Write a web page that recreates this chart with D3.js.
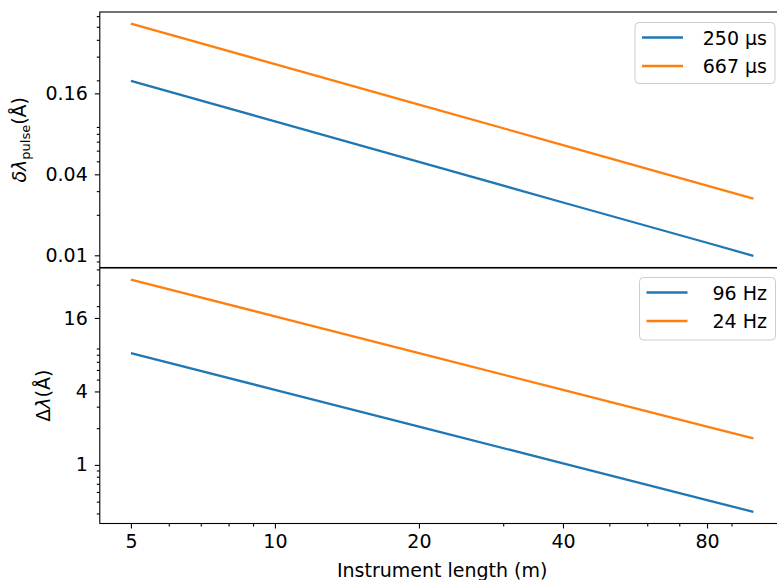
<!DOCTYPE html>
<html>
<head>
<meta charset="utf-8">
<script src="https://cdn.jsdelivr.net/npm/d3@7"></script>
<style>
  body { margin: 0; background: #fff; }
  svg { font-family: "DejaVu Sans", sans-serif; }
</style>
</head>
<body>
<div id="chart-area"></div>
<script>
// Instrument length (m)
var lengths = [5, 10, 20, 40, 80, 100];
// pulse resolution (Angstrom) per pulse length
var pulseLabels = ['250 μs', '667 μs'];
var pulse250 = [0.198, 0.099, 0.0495, 0.0247, 0.0124, 0.0099];
var pulse667 = [0.528, 0.264, 0.132, 0.066, 0.033, 0.0264];
// bandwidth (Angstrom) per frequency
var freqLabels = ['96 Hz', '24 Hz'];
var band96 = [8.24, 4.12, 2.06, 1.03, 0.515, 0.412];
var band24 = [33.0, 16.5, 8.24, 4.12, 2.06, 1.65];
// tick values
var xTicks = [5, 10, 20, 40, 80];
var yTopTicks = [0.01, 0.04, 0.16];
var yBotTicks = [1, 4, 16];

var outerWidth = 777, outerHeight = 580;
var colors = ['#1f77b4', '#ff7f0e'];
var left = 99.8, right = 784.5;
var topPanel = {y0: 12, y1: 267.5};
var botPanel = {y0: 268, y1: 523.5};

var svg = d3.select('#chart-area').append('svg')
            .attr('width', outerWidth)
            .attr('height', outerHeight);

// matplotlib-like 5% padding on log axes
function padLog(lo, hi) {
  var span = Math.log10(hi) - Math.log10(lo);
  var p = Math.pow(10, span * 0.05);
  return [lo / p, hi * p];
}
function minorTicks(domain) {
  var out = [];
  for (var e = -4; e <= 3; e++) {
    for (var m = 2; m <= 9; m++) {
      var v = m * Math.pow(10, e);
      if (v >= domain[0] && v <= domain[1]) out.push(v);
    }
  }
  return out;
}

var xScale = d3.scaleLog()
               .domain(padLog(d3.min(lengths), d3.max(lengths)))
               .range([left, right]);

function drawPanel(panel, series, labels, ticks, legendBox) {
  var all = d3.merge(series);
  var yScale = d3.scaleLog()
                 .domain(padLog(d3.min(all), d3.max(all)))
                 .range([panel.y1, panel.y0]);

  var line = d3.line()
               .x(function(d, i) { return xScale(lengths[i]); })
               .y(function(d) { return yScale(d); });

  series.forEach(function(s, k) {
    svg.append('path')
       .attr('d', line(s))
       .attr('fill', 'none')
       .attr('stroke', colors[k])
       .attr('stroke-width', 2.3);
  });

  var yMinor = minorTicks(yScale.domain()).filter(function(v) {
    return ticks.every(function(t) { return Math.abs(t - v) / t > 1e-6; });
  });

  var yAxisMinor = svg.append('g')
     .attr('transform', 'translate(' + left + ',0)')
     .call(d3.axisLeft(yScale).tickValues(yMinor).tickSize(3).tickFormat(''));
  var yAxisG = svg.append('g')
     .attr('transform', 'translate(' + left + ',0)')
     .call(d3.axisLeft(yScale).tickValues(ticks).tickSize(5).tickPadding(7)
             .tickFormat(function(d) { return String(+d.toPrecision(3)); }));
  [yAxisMinor, yAxisG].forEach(function(g) {
    g.select('.domain').remove();
    g.selectAll('line').attr('stroke', '#000').attr('stroke-width', 1.1);
    g.selectAll('text').attr('font-size', '19px').attr('fill', '#000')
     .attr('font-family', 'DejaVu Sans');
  });

  // frame
  svg.append('rect')
     .attr('x', left).attr('y', panel.y0)
     .attr('width', right - left).attr('height', panel.y1 - panel.y0)
     .attr('fill', 'none').attr('stroke', '#000').attr('stroke-width', 1.1);

  // legend
  var lg = svg.append('g');
  lg.append('rect')
    .attr('x', legendBox.x).attr('y', legendBox.y)
    .attr('width', legendBox.w).attr('height', legendBox.h)
    .attr('rx', 4)
    .attr('fill', '#fff').attr('fill-opacity', 0.8)
    .attr('stroke', '#cccccc').attr('stroke-width', 1);
  labels.forEach(function(lab, k) {
    var yy = legendBox.y + 15 + k * 28.5;
    lg.append('line')
      .attr('x1', legendBox.x + 7).attr('x2', legendBox.x + 48)
      .attr('y1', yy).attr('y2', yy)
      .attr('stroke', colors[k]).attr('stroke-width', 2.3);
    lg.append('text')
      .attr('x', 767).attr('y', yy + 7)
      .attr('text-anchor', 'end')
      .attr('font-size', '19px')
      .text(lab);
  });
  return yScale;
}

drawPanel(topPanel, [pulse250, pulse667], pulseLabels, yTopTicks,
          {x: 635, y: 22.5, w: 140, h: 61});
drawPanel(botPanel, [band96, band24], freqLabels, yBotTicks,
          {x: 639.5, y: 277.5, w: 136, h: 62.5});

// x axis on bottom panel
var xMinor = minorTicks(xScale.domain()).filter(function(v) {
  return xTicks.every(function(t) { return Math.abs(t - v) > 1e-6; });
});
var xAxisMinor = svg.append('g')
   .attr('transform', 'translate(0,' + botPanel.y1 + ')')
   .call(d3.axisBottom(xScale).tickValues(xMinor).tickSize(3).tickFormat(''));
var xAxisG = svg.append('g')
   .attr('transform', 'translate(0,' + botPanel.y1 + ')')
   .call(d3.axisBottom(xScale).tickValues(xTicks).tickSize(5).tickPadding(6)
           .tickFormat(d3.format('d')));
[xAxisMinor, xAxisG].forEach(function(g) {
  g.select('.domain').remove();
  g.selectAll('line').attr('stroke', '#000').attr('stroke-width', 1.1);
  g.selectAll('text').attr('font-size', '19px').attr('fill', '#000')
   .attr('font-family', 'DejaVu Sans');
});

// axis labels
svg.append('text')
   .attr('x', (left + right) / 2).attr('y', 577)
   .attr('text-anchor', 'middle')
   .attr('font-size', '19px')
   .text('Instrument length (m)');

var yl1 = svg.append('text')
   .attr('transform', 'translate(26,' + (topPanel.y0 + topPanel.y1) / 2 + ') rotate(-90)')
   .attr('text-anchor', 'middle')
   .attr('font-size', '19px');
yl1.append('tspan').attr('font-style', 'italic').text('δλ');
yl1.append('tspan').attr('font-size', '13px').attr('dy', 4).text('pulse');
yl1.append('tspan').attr('dy', -4).text('(Å)');

var yl2 = svg.append('text')
   .attr('transform', 'translate(50,' + (botPanel.y0 + botPanel.y1) / 2 + ') rotate(-90)')
   .attr('text-anchor', 'middle')
   .attr('font-size', '19px');
yl2.append('tspan').text('Δ');
yl2.append('tspan').attr('font-style', 'italic').text('λ');
yl2.append('tspan').text('(Å)');
</script>
</body>
</html>
